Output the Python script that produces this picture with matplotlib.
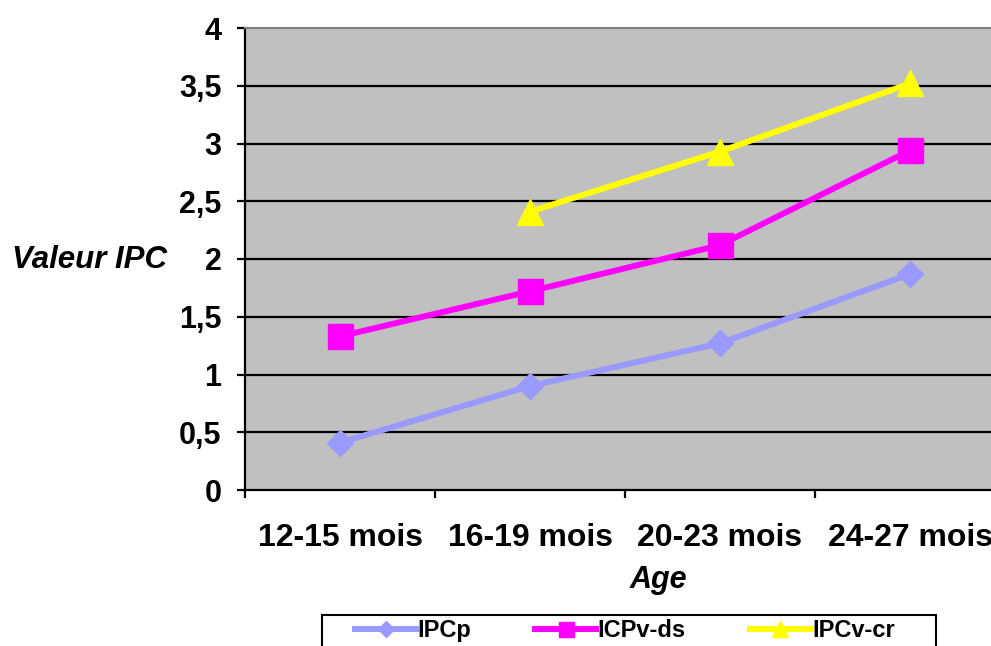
import matplotlib

matplotlib.use("Agg")
import matplotlib.pyplot as plt
import numpy as np
from matplotlib.patches import Rectangle

# Values
categories = ["12-15 mois", "16-19 mois", "20-23 mois", "24-27 mois"]
ipcp = [0.41, 0.90, 1.27, 1.87]
icpv_ds = [1.33, 1.72, 2.12, 2.94]
ipcv_cr = [np.nan, 2.41, 2.93, 3.52]
y_ticks = [0, 0.5, 1, 1.5, 2, 2.5, 3, 3.5, 4]
y_labels = ["0", "0,5", "1", "1,5", "2", "2,5", "3", "3,5", "4"]

FONT = ["Liberation Sans", "DejaVu Sans"]
W, H = 991, 646

fig = plt.figure(figsize=(W / 100, H / 100), dpi=100)
ax = fig.add_axes([245 / W, 1 - 490 / H, 760 / W, 462 / H])
ax.set_facecolor("#C0C0C0")

x = np.arange(len(categories))
ax.plot(x, ipcp, color="#9999FF", lw=4.3, marker="D", ms=13, label="IPCp", zorder=3)
ax.plot(x, icpv_ds, color="#FF00FF", lw=4.3, marker="s", ms=18, label="ICPv-ds", zorder=3)
ax.plot(x, ipcv_cr, color="#FFFF00", lw=4.3, marker="^", ms=19, label="IPCv-cr", zorder=3)

ax.set_xlim(-0.5, len(categories) - 0.5)
ax.set_ylim(0, 4)

for yv in y_ticks[1:-1]:
    ax.axhline(yv, color="black", lw=1.6, zorder=1)

for side in ["top", "right"]:
    ax.spines[side].set_color("#808080")
    ax.spines[side].set_linewidth(1.5)
for side in ["left", "bottom"]:
    ax.spines[side].set_color("black")
    ax.spines[side].set_linewidth(1.6)

ax.set_yticks(y_ticks)
ax.set_yticklabels(y_labels, fontsize=22, fontweight="bold", family=FONT)
ax.tick_params(axis="y", direction="out", length=6, width=1.6, pad=11)

ax.set_xticks(x)
ax.set_xticklabels(categories, fontsize=23, fontweight="bold", family=FONT)
ax.tick_params(axis="x", which="major", length=0, pad=24)
ax.set_xticks(np.arange(-0.5, len(categories) - 0.5, 1.0), minor=True)
ax.tick_params(axis="x", which="minor", direction="out", length=6, width=1.6)

fig.text(12 / W, 1 - 260 / H, "Valeur IPC", fontsize=22.5, fontweight="bold",
         fontstyle="italic", family=FONT, ha="left", va="center")
fig.text(658 / W, 1 - 580 / H, "Age", fontsize=22, fontweight="bold",
         fontstyle="italic", family=FONT, ha="center", va="center")

# legend frame runs past the bottom edge, as in the reference
fig.patches.append(Rectangle((322 / W, -0.05), (936 - 322) / W, 0.05 + 1 - 615 / H,
                             transform=fig.transFigure, fill=False,
                             edgecolor="black", lw=1.5))
leg = fig.legend(loc="upper left", ncol=3, bbox_to_anchor=(355 / W, 1 - 619 / H),
                 prop={"family": FONT, "weight": "bold", "size": 17},
                 handlelength=2.6, handletextpad=0.05, columnspacing=2.7,
                 borderaxespad=0, borderpad=0, frameon=False, markerscale=0.6)

fig.savefig("out.png", dpi=100)
